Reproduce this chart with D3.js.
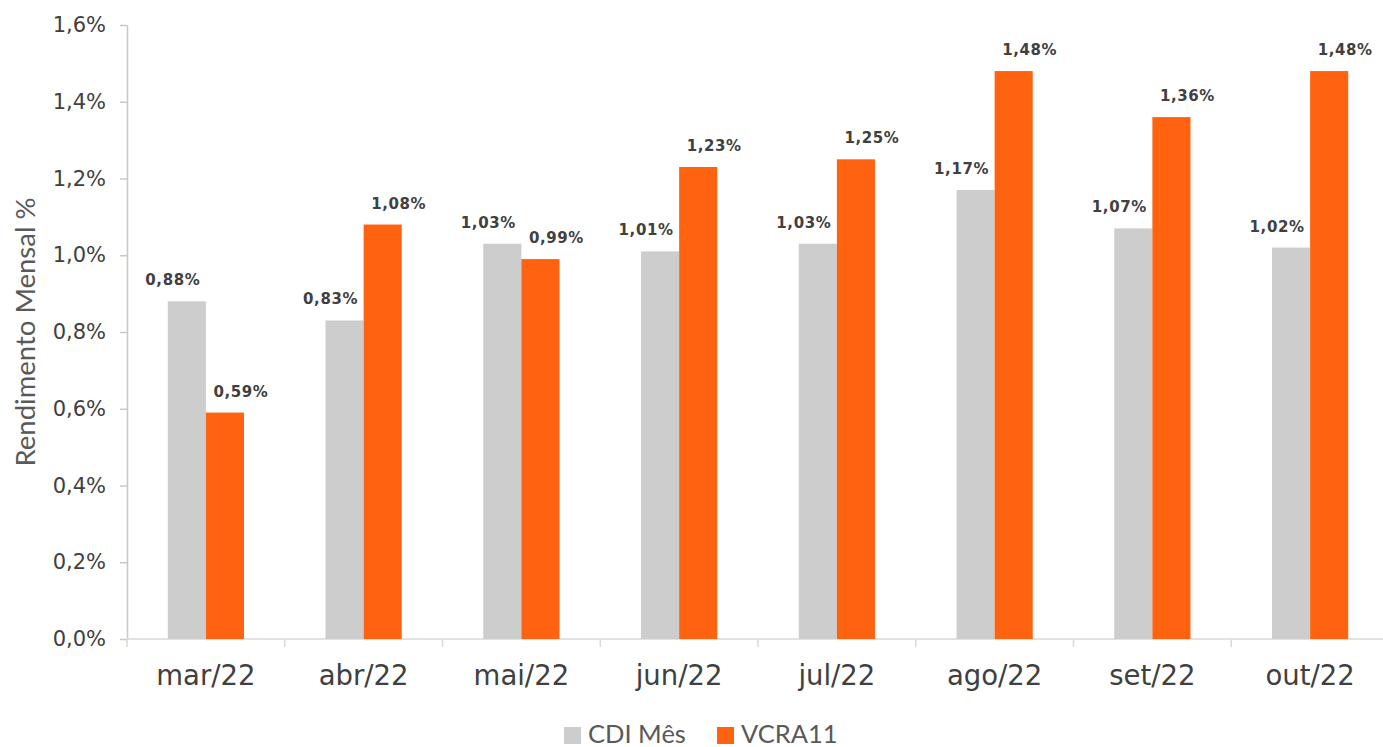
<!DOCTYPE html>
<html>
<head>
<meta charset="utf-8">
<script src="https://cdn.jsdelivr.net/npm/d3@7"></script>
<style>
  body { margin: 0; background: #fff; }
  .tick text { font-family: "DejaVu Sans", Verdana, sans-serif; fill: #404040; }
  .value-label { font-family: "DejaVu Sans", Verdana, sans-serif; font-weight: bold; font-size: 15px; fill: #404040; }
  .axis-title, .legend-text { font-family: Lato, "Open Sans", sans-serif; fill: #595959; }
</style>
</head>
<body>
<svg id="chart"></svg>
<script>
// chart size
const width = 1383;
const height = 747;

// data
const months = ["mar/22", "abr/22", "mai/22", "jun/22", "jul/22", "ago/22", "set/22", "out/22"];
const cdiValues = [0.88, 0.83, 1.03, 1.01, 1.03, 1.17, 1.07, 1.02];
const vcraValues = [0.59, 1.08, 0.99, 1.23, 1.25, 1.48, 1.36, 1.48];
const seriesNames = ["CDI Mês", "VCRA11"];
const yTicks = [0, 0.2, 0.4, 0.6, 0.8, 1.0, 1.2, 1.4, 1.6];

const colors = d3.scaleOrdinal().domain(seriesNames).range(["#cdcdcd", "#ff6310"]);

const margin = { top: 25, bottom: 108, left: 127, right: -6 };

const svg = d3.select("#chart").attr("width", width).attr("height", height);

// scales
const xScale = d3.scaleBand()
  .domain(months)
  .range([margin.left, width - margin.right])
  .padding(0);

const innerScale = d3.scaleBand()
  .domain(seriesNames)
  .range([0, xScale.bandwidth()])
  .paddingInner(0)
  .paddingOuter(1.07);

const yScale = d3.scaleLinear()
  .domain([0, 1.6])
  .range([height - margin.bottom, margin.top]);

const fmt = v => d3.format(".1f")(v).replace(".", ",") + "%";
const fmtLabel = v => d3.format(".2f")(v).replace(".", ",") + "%";

// build rows for drawing
const rows = [];
months.forEach((m, i) => {
  rows.push({ month: m, series: seriesNames[0], value: cdiValues[i] });
  rows.push({ month: m, series: seriesNames[1], value: vcraValues[i] });
});

drawAxis();
drawBars(rows);
drawLabels(rows);
drawTitles();
drawLegend();

function drawAxis() {
  let yAxis = d3.axisLeft(yScale).tickValues(yTicks).tickFormat(fmt).tickSize(7).tickPadding(14).tickSizeOuter(0);
  let yg = svg.append("g")
    .attr("transform", translate(margin.left, 0))
    .call(yAxis);
  yg.selectAll("line, path").attr("stroke", "#c8c8c8").attr("stroke-width", 1.5);
  yg.selectAll("text").style("font-size", "21px");

  // x axis with ticks at band boundaries
  let xg = svg.append("g").attr("transform", translate(0, yScale(0)));
  xg.append("line")
    .attr("x1", margin.left).attr("x2", width)
    .attr("stroke", "#d9d9d9").attr("stroke-width", 1.5);
  xg.selectAll("line.bound")
    .data(months.concat(["end"]))
    .enter()
    .append("line")
    .attr("class", "bound")
    .attr("x1", (d, i) => margin.left + i * xScale.step())
    .attr("x2", (d, i) => margin.left + i * xScale.step())
    .attr("y1", 0).attr("y2", 8)
    .attr("stroke", "#d9d9d9").attr("stroke-width", 1.5);
  xg.selectAll("text")
    .data(months)
    .enter()
    .append("text")
    .attr("class", "tick-label")
    .attr("x", d => xScale(d) + xScale.bandwidth() / 2)
    .attr("y", 46)
    .attr("text-anchor", "middle")
    .style("font-family", "'DejaVu Sans', Verdana, sans-serif")
    .style("font-size", "27.5px")
    .style("fill", "#404040")
    .text(d => d);
}

function drawBars(data) {
  svg.append("g")
    .selectAll("rect")
    .data(data)
    .enter()
    .append("rect")
    .attr("x", d => xScale(d.month) + innerScale(d.series))
    .attr("y", d => yScale(d.value))
    .attr("width", innerScale.bandwidth())
    .attr("height", d => yScale(0) - yScale(d.value))
    .attr("fill", d => colors(d.series));
}

function drawLabels(data) {
  svg.append("g")
    .selectAll("text")
    .data(data)
    .enter()
    .append("text")
    .attr("class", "value-label")
    .attr("x", d => xScale(d.month) + innerScale(d.series) + innerScale.bandwidth() / 2 + (d.series === seriesNames[0] ? -14 : 16))
    .attr("y", d => yScale(d.value) - 16)
    .attr("text-anchor", "middle")
    .style("letter-spacing", "0.6px")
    .text(d => fmtLabel(d.value));
}

function drawTitles() {
  let yMiddle = (yScale.range()[0] + yScale.range()[1]) / 2;
  svg.append("g")
    .attr("transform", translate(35, yMiddle))
    .append("text")
    .attr("class", "axis-title")
    .attr("text-anchor", "middle")
    .attr("transform", "rotate(-90)")
    .style("font-size", "27.5px")
    .text("Rendimento Mensal %");
}

function drawLegend() {
  let legend = svg.append("g").attr("transform", translate(564, 727));
  let offsets = [0, 153];
  let items = legend.selectAll("g")
    .data(seriesNames)
    .enter()
    .append("g")
    .attr("transform", (d, i) => translate(offsets[i], 0));
  items.append("rect")
    .attr("width", 17).attr("height", 17)
    .attr("fill", d => colors(d));
  items.append("text")
    .attr("class", "legend-text")
    .attr("x", 24)
    .attr("y", 16)
    .style("font-size", "25.5px")
    .text(d => d);
}

function translate(x, y) {
  return "translate(" + String(x) + "," + String(y) + ")";
}
</script>
</body>
</html>
